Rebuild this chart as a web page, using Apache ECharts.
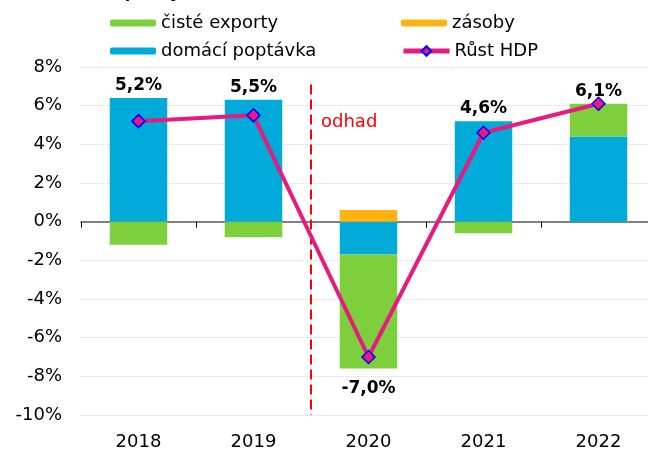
<!DOCTYPE html>
<html>
<head>
<meta charset="utf-8">
<script src="https://cdn.jsdelivr.net/npm/echarts@6/dist/echarts.min.js"></script>
<style>
  html, body { margin: 0; padding: 0; background: #fff; }
  #chart { width: 648px; height: 450px; }
</style>
</head>
<body>
<div id="chart"></div>
<script>
// data (percentage points)
var years = ['2018', '2019', '2020', '2021', '2022']
var domesticDemand = [6.4, 6.3, -1.7, 5.2, 4.4]
var netExports = [-1.2, -0.8, -5.9, -0.6, 1.7]
var inventories = [0, 0, 0.6, 0, 0]
var gdpGrowth = [5.2, 5.5, -7.0, 4.6, 6.1]
var yTicks = { min: -10, max: 8, step: 2 }

// the reference text is wide, DejaVu Sans is the closest match
var font = 'DejaVu Sans, Verdana, sans-serif'
var fmt = function (v) { return v.toFixed(1).replace('.', ',') + '%' }

// put the growth label on the outer end of each stacked column
var stackOrder = [domesticDemand, netExports, inventories]
var labelled = stackOrder.map(function (arr) {
  return arr.map(function (v) { return { value: v } })
})
years.forEach(function (y, i) {
  var up = gdpGrowth[i] >= 0
  var idx = -1
  stackOrder.forEach(function (arr, s) {
    if ((up && arr[i] > 0) || (!up && arr[i] < 0)) idx = s
  })
  if (idx >= 0) {
    labelled[idx][i].label = {
      show: true,
      position: up ? 'top' : 'bottom',
      distance: up ? 4 : 11,
      formatter: fmt(gdpGrowth[i]),
      color: '#000',
      fontWeight: 'bold',
      fontSize: 17,
      fontFamily: font
    }
  }
})

var chart = echarts.init(document.getElementById('chart'))

var barBase = {
  type: 'bar',
  stack: 'parts',
  barWidth: '50%',
  xAxisIndex: 0,
  yAxisIndex: 0
}

var legendText = { fontSize: 18, color: '#000', fontFamily: font }
function legendAt(name, left, top, h) {
  return {
    data: [name],
    left: left,
    top: top,
    padding: 0,
    itemWidth: 46,
    itemHeight: h || 7,
    textStyle: legendText
  }
}

var option = {
  animation: false,
  title: {
    text: 'Příspěvky k růstu HDP',
    left: 82,
    top: -24,
    textStyle: { fontSize: 20, fontWeight: 'bold', color: '#000', fontFamily: 'Liberation Sans, Arial, sans-serif' }
  },
  legend: [
    legendAt('čisté exporty', 110, 14),
    legendAt('domácí poptávka', 110, 42),
    legendAt('zásoby', 401, 14),
    Object.assign(legendAt('Růst HDP', 401, 42, 12), {
      data: [{ name: 'Růst HDP', lineStyle: { width: 5 } }]
    })
  ],
  grid: { left: 81, width: 575, top: 67, bottom: 35, outerBoundsMode: 'none' },
  xAxis: [
    {
      type: 'category',
      data: years,
      position: 'bottom',
      axisLine: { onZero: true, lineStyle: { color: '#595959', width: 1.5 } },
      axisTick: { show: true, length: 6, lineStyle: { color: '#000' } },
      axisLabel: { show: false },
      splitLine: { show: false }
    },
    {
      type: 'category',
      data: years,
      position: 'bottom',
      axisLine: { show: false, onZero: false },
      axisTick: { show: false },
      axisLabel: { margin: 18, fontSize: 18, color: '#000', fontFamily: font }
    },
    {
      type: 'value',
      min: -0.5,
      max: 4.5,
      show: false
    }
  ],
  yAxis: {
    type: 'value',
    min: yTicks.min,
    max: yTicks.max,
    interval: yTicks.step,
    axisLine: { show: false },
    axisTick: { show: false },
    axisLabel: { formatter: '{value}%', margin: 19, fontSize: 18, color: '#000', fontFamily: font },
    splitLine: { lineStyle: { color: '#D9D9D9', type: 'dotted', width: 1 } }
  },
  series: [
    Object.assign({}, barBase, {
      name: 'domácí poptávka',
      data: labelled[0],
      itemStyle: { color: '#00ABDA' }
    }),
    Object.assign({}, barBase, {
      name: 'čisté exporty',
      data: labelled[1],
      itemStyle: { color: '#7DD03B' }
    }),
    Object.assign({}, barBase, {
      name: 'zásoby',
      data: labelled[2],
      itemStyle: { color: '#FFB310' }
    }),
    {
      name: 'Růst HDP',
      type: 'line',
      data: gdpGrowth,
      xAxisIndex: 0,
      yAxisIndex: 0,
      z: 5,
      symbol: 'diamond',
      symbolSize: 13,
      lineStyle: { color: '#E8197F', width: 4 },
      itemStyle: { color: '#E8197F', borderColor: '#0000FF', borderWidth: 1.5 }
    },
    {
      // estimate boundary: dashed red line between 2019 and 2020
      name: 'odhad',
      type: 'line',
      data: [],
      xAxisIndex: 2,
      yAxisIndex: 0,
      markLine: {
        silent: true,
        symbol: 'none',
        label: { show: false },
        lineStyle: { color: '#FF0000', type: [10, 5], width: 2 },
        data: [[{ coord: [1.5, 7.1] }, { coord: [1.5, -10] }]]
      }
    }
  ],
  graphic: [
    {
      type: 'text',
      left: 321,
      top: 113,
      style: { text: 'odhad', fill: '#FF0000', fontSize: 18, fontFamily: font }
    }
  ]
}

chart.setOption(option)
</script>
</body>
</html>
